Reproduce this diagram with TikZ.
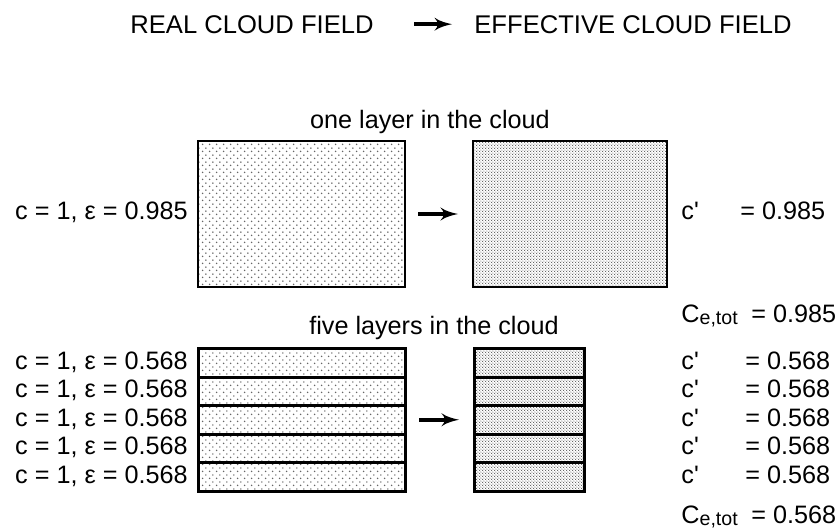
\documentclass[tikz,border=0pt]{standalone}
\usepackage{fontspec}
\setmainfont{Liberation Sans}
\usetikzlibrary{arrows}
\usetikzlibrary{patterns}

% loose dots for the real cloud, dense dots for the effective one
\pgfdeclarepatternformonly{loose dots}{\pgfqpoint{0pt}{0pt}}{\pgfqpoint{3.6pt}{3.6pt}}{\pgfqpoint{3.6pt}{3.6pt}}{
  \pgfpathcircle{\pgfqpoint{0.9pt}{0.9pt}}{0.45pt}
  \pgfpathcircle{\pgfqpoint{2.7pt}{2.7pt}}{0.45pt}
  \pgfusepath{fill}
}
\pgfdeclarepatternformonly{dense dots}{\pgfqpoint{0pt}{0pt}}{\pgfqpoint{1.6pt}{1.6pt}}{\pgfqpoint{1.6pt}{1.6pt}}{
  \pgfpathcircle{\pgfqpoint{0.4pt}{0.4pt}}{0.35pt}
  \pgfpathcircle{\pgfqpoint{1.2pt}{1.2pt}}{0.35pt}
  \pgfusepath{fill}
}
\newcommand{\txtsize}{\fontsize{12.6}{15}\selectfont}
\newcommand{\headsize}{\fontsize{12.8}{15}\selectfont}
\newcommand{\cprime}{c\textquotesingle}
\newcommand{\Cetot}{C\raisebox{-0.2ex}{\fontsize{9.8}{10}\selectfont e,tot}}

\begin{document}
\begin{tikzpicture}[x=0.5pt, y=-0.5pt]
\tikzset{
   >=latex',
   every node/.style = {font = \txtsize, inner sep = 0pt},
   flow/.style = {->, line width = 2pt, shorten <= 6pt, shorten >= 7pt},
   real/.style = {rectangle, draw, line width = 1pt, anchor = north west, pattern = loose dots, pattern color = black!60},
   eff/.style = {rectangle, draw, line width = 1pt, anchor = north west, fill = black!25, pattern = dense dots, pattern color = black!65},
   layer/.style = {line width = 1.5pt, minimum height = 14.25pt}
}
\useasboundingbox (0,0) rectangle (835,530);

% heading
\node [anchor = base west, font = \headsize] (realfield) at (130,33) {REAL CLOUD FIELD};
\node [anchor = base east, font = \headsize] (efffield) at (792,33) {EFFECTIVE CLOUD FIELD};
\draw [->, line width = 2pt, shorten <= 20pt, shorten >= 11pt] (realfield.east) -- (efffield.west |- realfield.east);

% one layer
\node [anchor = base] (onetitle) at (430,128) {one layer in the cloud};
\node [real, minimum width = 103.5pt, minimum height = 73pt] (one) at (197,140) {};
\node [eff, minimum width = 97pt, minimum height = 73pt] (oneeff) at (472,140) {};
\draw [flow] (one) -- (oneeff);
\node [anchor = base east] (onelab) at (188,219) {c = 1, ε = 0.985};
\node [anchor = base west] (onec) at (681,219) {\cprime};
\node [anchor = base west] (onecv) at (740,219) {= 0.985};
\node [anchor = base west] (onetot) at (681,322) {\Cetot};
\node [anchor = base west] (onetotv) at (751,322) {= 0.985};

% five layers
\node [anchor = base] (fivetitle) at (434,334) {five layers in the cloud};
\foreach \i in {1,...,5} {
  \pgfmathsetmacro{\ytop}{347+28.5*(\i-1)}
  \pgfmathsetmacro{\ybase}{\ytop+22}
  \node [real, layer, minimum width = 103.5pt] (r\i) at (197,\ytop) {};
  \node [eff, layer, minimum width = 55pt] (e\i) at (473,\ytop) {};
  \node [anchor = base east] (rlab\i) at (188,\ybase) {c = 1, ε = 0.568};
  \node [anchor = base west] (ec\i) at (681,\ybase) {\cprime};
  \node [anchor = base west] (ecv\i) at (745,\ybase) {= 0.568};
}
\draw [flow] (r3) -- (e3);
\node [anchor = base west] (fivetot) at (681,523) {\Cetot};
\node [anchor = base west] (fivetotv) at (751,523) {= 0.568};

\end{tikzpicture}
\end{document}
